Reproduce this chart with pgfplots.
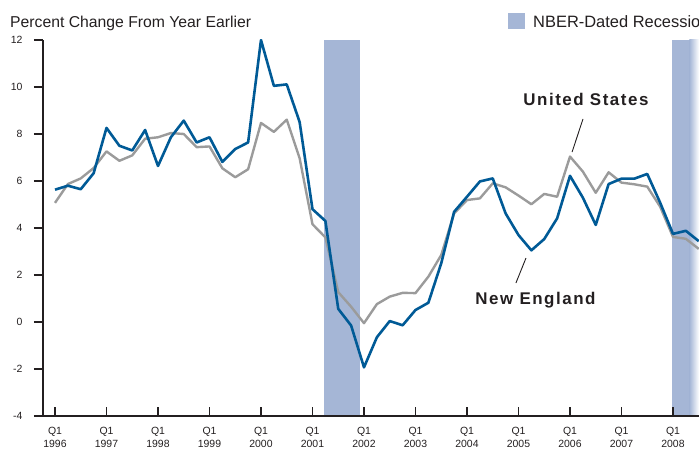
\documentclass[border=0pt]{standalone}
\usepackage{pgfplots}
\pgfplotsset{compat=1.18}
\usepackage{fontspec}
\setmainfont{Liberation Sans}
\newfontfamily\annfont{Liberation Sans}[LetterSpace=9.0]
\definecolor{ne}{HTML}{005A96}
\definecolor{us}{HTML}{9B9B9B}
\definecolor{rec}{HTML}{A5B6D6}
\definecolor{ax}{HTML}{231F20}

\pgfplotstableread{
i ne us
0 5.63 5.07
1 5.80 5.87
2 5.65 6.11
3 6.33 6.55
4 8.26 7.26
5 7.50 6.86
6 7.30 7.09
7 8.17 7.80
8 6.64 7.86
9 7.86 8.04
10 8.57 8.00
11 7.64 7.44
12 7.86 7.47
13 6.81 6.54
14 7.36 6.16
15 7.64 6.50
16 12.00 8.47
17 10.05 8.09
18 10.11 8.61
19 8.51 6.97
20 4.80 4.16
21 4.30 3.60
22 0.56 1.27
23 -0.15 0.65
24 -1.93 -0.05
25 -0.65 0.76
26 0.04 1.08
27 -0.14 1.24
28 0.51 1.23
29 0.82 1.93
30 2.50 2.85
31 4.69 4.62
32 5.33 5.19
33 5.98 5.26
34 6.11 5.90
35 4.62 5.73
36 3.70 5.38
37 3.05 5.01
38 3.53 5.45
39 4.41 5.33
40 6.22 7.04
41 5.29 6.40
42 4.13 5.50
43 5.87 6.37
44 6.10 5.93
45 6.10 5.86
46 6.30 5.76
47 5.08 4.91
48 3.75 3.62
49 3.88 3.54
50 3.44 3.11
}\datatable

\begin{document}
\begin{tikzpicture}
\useasboundingbox (-43bp,-35bp) rectangle (656bp,416bp);
\begin{axis}[
  at={(0,0)}, anchor=south west,
  scale only axis, width=656bp, height=376bp,
  xmin=-0.932, xmax=50.02, ymin=-4, ymax=12,
  axis x line*=bottom, axis y line*=left,
  axis line style={-, ax, line width=1.8bp},
  axis on top,
  xtick={0,4,...,48},
  xticklabels={{Q1\\1996},{Q1\\1997},{Q1\\1998},{Q1\\1999},{Q1\\2000},{Q1\\2001},{Q1\\2002},{Q1\\2003},{Q1\\2004},{Q1\\2005},{Q1\\2006},{Q1\\2007},{Q1\\2008}},
  ytick={-4,-2,...,12},
  xtick align=inside, ytick align=outside,
  major tick length=9bp,
  tick style={ax, line width=1.2bp},
  /pgf/number format/assume math mode=true,
  yticklabel style={font=\fontsize{10.5}{12}\selectfont, text=ax, xshift=-8bp},
  xticklabel style={align=center, font=\fontsize{10.5}{13}\selectfont, text=ax, yshift=-8bp},
]
\addplot[draw=none, fill=rec] coordinates {(20.89,-4) (20.89,12) (23.69,12) (23.69,-4)} -- cycle;
\addplot[draw=none, fill=rec] coordinates {(47.95,-4) (47.95,12) (49.3,12) (49.3,-4)} -- cycle;
\addplot[draw=none, left color=rec, right color=white] coordinates {(49.28,-4) (49.28,12) (50.02,12) (50.02,-4)} -- cycle;
\addplot[us, line width=2.4bp, line join=round] table[x=i, y=us] {\datatable};
\addplot[ne, line width=2.6bp, line join=round] table[x=i, y=ne] {\datatable};
\draw[ax, line width=0.9bp] (axis cs:41.01,8.64) -- (axis cs:40.16,7.23);
\draw[ax, line width=0.9bp] (axis cs:36.58,2.72) -- (axis cs:35.8,1.66);
\node[text=ax, font=\annfont\bfseries\fontsize{17}{20}\selectfont] at (axis cs:41.24,9.49) {United States};
\node[text=ax, font=\annfont\bfseries\fontsize{17}{20}\selectfont] at (axis cs:37.32,0.94) {New England};
\end{axis}
\node[anchor=base west, inner sep=0pt, text=ax, font=\fontsize{15.8}{18}\selectfont] at (-33bp,388bp) {Percent Change From Year Earlier};
\fill[rec] (465bp,387bp) rectangle (482bp,403bp);
\node[anchor=base west, inner sep=0pt, text=ax, font=\fontsize{16.5}{18}\selectfont] at (490bp,388bp) {NBER-Dated Recessions};
\end{tikzpicture}
\end{document}
